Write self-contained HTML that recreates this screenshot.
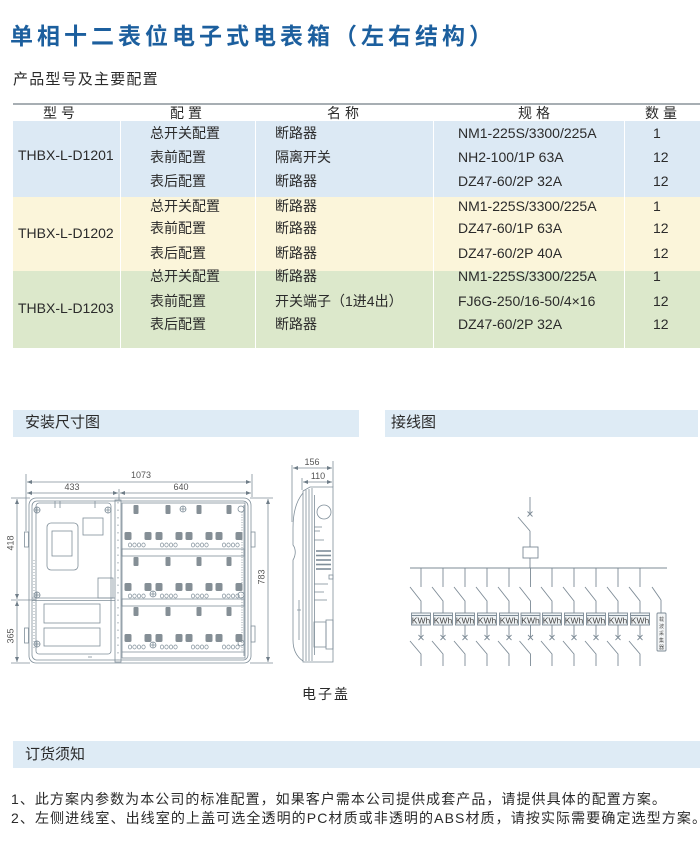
<!DOCTYPE html>
<html>
<head>
<meta charset="utf-8">
<style>
html,body{margin:0;padding:0;background:#fff;}
body{width:700px;height:863px;position:relative;overflow:hidden;font-family:"Liberation Sans","Noto Sans CJK SC",sans-serif;color:#2a2a2a;}
.a{position:absolute;white-space:nowrap;}
.t{position:absolute;white-space:nowrap;font-size:14px;line-height:20px;height:20px;color:#2b2b2b;}
.band{position:absolute;}
.sep{position:absolute;top:121px;height:227px;width:1px;background:#ffffff;}
</style>
</head>
<body>

<div class="a" style="left:10px;top:22px;font-size:23px;line-height:28px;font-weight:bold;letter-spacing:4px;color:#1c5f9e;">单相十二表位电子式电表箱（左右结构）</div>

<div class="a" style="left:13px;top:70px;font-size:15px;line-height:20px;letter-spacing:1.2px;color:#2a2a2a;">产品型号及主要配置</div>

<!-- table -->
<div class="band" style="left:13px;top:103px;width:687px;height:2px;background:#a7aeb3;"></div>
<div class="band" style="left:13px;top:121px;width:687px;height:76px;background:#dce9f4;"></div>
<div class="band" style="left:13px;top:197px;width:687px;height:74px;background:#fbf5da;"></div>
<div class="band" style="left:13px;top:271px;width:687px;height:77px;background:#dce8cb;"></div>
<div class="sep" style="left:120px;"></div>
<div class="sep" style="left:255px;"></div>
<div class="sep" style="left:433px;"></div>
<div class="sep" style="left:624px;"></div>

<div class="t" style="left:43px;top:103px;letter-spacing:4px;">型号</div>
<div class="t" style="left:170px;top:103px;letter-spacing:4px;">配置</div>
<div class="t" style="left:327px;top:103px;letter-spacing:4px;">名称</div>
<div class="t" style="left:518px;top:103px;letter-spacing:4px;">规格</div>
<div class="t" style="left:645px;top:103px;letter-spacing:4px;">数量</div>

<div class="t" style="left:18px;top:145px;">THBX-L-D1201</div>
<div class="t" style="left:150px;top:123px;">总开关配置</div>
<div class="t" style="left:275px;top:123px;">断路器</div>
<div class="t" style="left:458px;top:123px;">NM1-225S/3300/225A</div>
<div class="t" style="left:653px;top:123px;">1</div>
<div class="t" style="left:150px;top:147px;">表前配置</div>
<div class="t" style="left:275px;top:147px;">隔离开关</div>
<div class="t" style="left:458px;top:147px;">NH2-100/1P 63A</div>
<div class="t" style="left:653px;top:147px;">12</div>
<div class="t" style="left:150px;top:171px;">表后配置</div>
<div class="t" style="left:275px;top:171px;">断路器</div>
<div class="t" style="left:458px;top:171px;">DZ47-60/2P 32A</div>
<div class="t" style="left:653px;top:171px;">12</div>

<div class="t" style="left:18px;top:223px;">THBX-L-D1202</div>
<div class="t" style="left:150px;top:196px;">总开关配置</div>
<div class="t" style="left:275px;top:196px;">断路器</div>
<div class="t" style="left:458px;top:196px;">NM1-225S/3300/225A</div>
<div class="t" style="left:653px;top:196px;">1</div>
<div class="t" style="left:150px;top:218px;">表前配置</div>
<div class="t" style="left:275px;top:218px;">断路器</div>
<div class="t" style="left:458px;top:218px;">DZ47-60/1P 63A</div>
<div class="t" style="left:653px;top:218px;">12</div>
<div class="t" style="left:150px;top:243px;">表后配置</div>
<div class="t" style="left:275px;top:243px;">断路器</div>
<div class="t" style="left:458px;top:243px;">DZ47-60/2P 40A</div>
<div class="t" style="left:653px;top:243px;">12</div>

<div class="t" style="left:18px;top:298px;">THBX-L-D1203</div>
<div class="t" style="left:150px;top:266px;">总开关配置</div>
<div class="t" style="left:275px;top:266px;">断路器</div>
<div class="t" style="left:458px;top:266px;">NM1-225S/3300/225A</div>
<div class="t" style="left:653px;top:266px;">1</div>
<div class="t" style="left:150px;top:291px;">表前配置</div>
<div class="t" style="left:275px;top:291px;">开关端子（1进4出）</div>
<div class="t" style="left:458px;top:291px;">FJ6G-250/16-50/4×16</div>
<div class="t" style="left:653px;top:291px;">12</div>
<div class="t" style="left:150px;top:314px;">表后配置</div>
<div class="t" style="left:275px;top:314px;">断路器</div>
<div class="t" style="left:458px;top:314px;">DZ47-60/2P 32A</div>
<div class="t" style="left:653px;top:314px;">12</div>

<!-- section headers -->
<div class="band" style="left:13px;top:410px;width:346px;height:27px;background:#deebf5;"></div>
<div class="band" style="left:385px;top:410px;width:313px;height:27px;background:#deebf5;"></div>
<div class="a" style="left:25px;top:413px;font-size:15px;line-height:20px;">安装尺寸图</div>
<div class="a" style="left:391px;top:413px;font-size:15px;line-height:20px;">接线图</div>

<div class="band" style="left:13px;top:741px;width:687px;height:27px;background:#deebf5;"></div>
<div class="a" style="left:25px;top:745px;font-size:15px;line-height:20px;">订货须知</div>

<div class="a" style="left:11px;top:789px;font-size:14px;line-height:20px;letter-spacing:1.05px;">1、此方案内参数为本公司的标准配置，如果客户需本公司提供成套产品，请提供具体的配置方案。</div>
<div class="a" style="left:11px;top:808px;font-size:14px;line-height:20px;letter-spacing:1.1px;">2、左侧进线室、出线室的上盖可选全透明的PC材质或非透明的ABS材质，请按实际需要确定选型方案。</div>

<div class="a" style="left:302px;top:684px;font-size:14px;line-height:20px;letter-spacing:2px;">电子盖</div>

<svg class="a" style="left:0;top:0;" width="700" height="863" viewBox="0 0 700 863">
<defs>
<marker id="ar" markerWidth="6" markerHeight="6" refX="5" refY="3" orient="auto" markerUnits="userSpaceOnUse">
<path d="M0,1 L5,3 L0,5 Z" fill="#6f7d88"/>
</marker>
<marker id="al" markerWidth="6" markerHeight="6" refX="0" refY="3" orient="auto" markerUnits="userSpaceOnUse">
<path d="M5,1 L0,3 L5,5 Z" fill="#6f7d88"/>
</marker>
</defs>

<!-- ===== FRONT VIEW ===== -->
<g stroke="#7f8e99" fill="none" stroke-width="0.8">
 <line x1="26" y1="474" x2="26" y2="531"/>
 <line x1="252" y1="474" x2="252" y2="497"/>
 <line x1="119" y1="489" x2="119" y2="500"/>
 <line x1="27" y1="482" x2="251" y2="482" marker-start="url(#al)" marker-end="url(#ar)"/>
 <line x1="27" y1="493" x2="118" y2="493" marker-start="url(#al)" marker-end="url(#ar)"/>
 <line x1="120" y1="493" x2="251" y2="493" marker-start="url(#al)" marker-end="url(#ar)"/>
 <line x1="11" y1="498" x2="30" y2="498"/>
 <line x1="11" y1="600" x2="36" y2="600"/>
 <line x1="11" y1="663" x2="30" y2="663"/>
 <line x1="17" y1="499" x2="17" y2="599" marker-start="url(#al)" marker-end="url(#ar)"/>
 <line x1="17" y1="601" x2="17" y2="662" marker-start="url(#al)" marker-end="url(#ar)"/>
 <line x1="250" y1="498" x2="273" y2="498"/>
 <line x1="250" y1="663" x2="273" y2="663"/>
 <line x1="268" y1="499" x2="268" y2="662" marker-start="url(#al)" marker-end="url(#ar)"/>

 <rect x="29" y="498" width="222" height="165" rx="7"/>
 <rect x="32" y="501" width="216" height="159" rx="5"/>
 <rect x="115" y="500" width="6" height="162"/>
 <line x1="118" y1="502" x2="118" y2="660" stroke-dasharray="1.5 6"/>
 <rect x="36" y="503" width="75" height="151" rx="3"/>
 <line x1="32" y1="598" x2="115" y2="598"/>
 <line x1="32" y1="600.5" x2="115" y2="600.5"/>
 <line x1="55" y1="501" x2="55" y2="508"/>
 <line x1="60" y1="501" x2="60" y2="508"/>
 <line x1="95" y1="501" x2="95" y2="508"/>
 <line x1="34" y1="560" x2="34" y2="650" stroke-dasharray="1 2"/>
 <rect x="47" y="523" width="31" height="47" rx="4"/>
 <rect x="52" y="531" width="20" height="25"/>
 <rect x="83" y="518" width="20" height="17"/>
 <rect x="98" y="578" width="15" height="20"/>
 <rect x="44" y="604" width="56" height="19"/>
 <rect x="44" y="628" width="56" height="18"/>
 <line x1="88" y1="657" x2="92" y2="657"/>
 <circle cx="37" cy="510" r="3"/><path d="M33.5 510h7M37 506.5v7"/>
 <circle cx="108" cy="510" r="3"/><path d="M104.5 510h7M108 506.5v7"/>
 <circle cx="37" cy="595" r="3"/><path d="M33.5 595h7M37 591.5v7"/>
 <circle cx="37" cy="644" r="3"/><path d="M33.5 644h7M37 640.5v7"/>
 <rect x="24.5" y="532" width="4" height="15"/>
 <rect x="24.5" y="628" width="4" height="15"/>
 <rect x="251" y="532" width="4" height="15"/>
 <rect x="251" y="626" width="4" height="16"/>
 <rect x="122" y="503" width="123" height="155"/>
 <line x1="242" y1="512" x2="242" y2="652" stroke-dasharray="1 1.5"/>
 <line x1="244" y1="505" x2="244" y2="656"/>
 <rect x="122" y="549" width="122" height="7"/>
 <rect x="122" y="599" width="122" height="7"/>
 <line x1="122" y1="652" x2="244" y2="652"/>
 <circle cx="183" cy="509" r="3"/><path d="M180 509h6M183 506v6"/>
 <circle cx="153" cy="594" r="3"/><path d="M150 594h6M153 591v6"/>
 <circle cx="153" cy="645" r="3"/><path d="M150 645h6M153 642v6"/>
 <circle cx="241" cy="509" r="3"/>
 <circle cx="241" cy="595" r="3"/>
 <circle cx="241" cy="643" r="3"/>
</g>
<g fill="#858f96">
 <rect x="124.5" y="532" width="7" height="8" rx="1.5"/><rect x="144.5" y="532" width="7" height="8" rx="1.5"/><rect x="155.5" y="532" width="7" height="8" rx="1.5"/><rect x="175.5" y="532" width="7" height="8" rx="1.5"/><rect x="185.5" y="532" width="7" height="8" rx="1.5"/><rect x="205.5" y="532" width="7" height="8" rx="1.5"/><rect x="215.5" y="532" width="7" height="8" rx="1.5"/><rect x="235.5" y="532" width="7" height="8" rx="1.5"/>
 <rect x="124.5" y="583" width="7" height="8" rx="1.5"/><rect x="144.5" y="583" width="7" height="8" rx="1.5"/><rect x="155.5" y="583" width="7" height="8" rx="1.5"/><rect x="175.5" y="583" width="7" height="8" rx="1.5"/><rect x="185.5" y="583" width="7" height="8" rx="1.5"/><rect x="205.5" y="583" width="7" height="8" rx="1.5"/><rect x="215.5" y="583" width="7" height="8" rx="1.5"/><rect x="235.5" y="583" width="7" height="8" rx="1.5"/>
 <rect x="124.5" y="634" width="7" height="8" rx="1.5"/><rect x="144.5" y="634" width="7" height="8" rx="1.5"/><rect x="155.5" y="634" width="7" height="8" rx="1.5"/><rect x="175.5" y="634" width="7" height="8" rx="1.5"/><rect x="185.5" y="634" width="7" height="8" rx="1.5"/><rect x="205.5" y="634" width="7" height="8" rx="1.5"/><rect x="215.5" y="634" width="7" height="8" rx="1.5"/><rect x="235.5" y="634" width="7" height="8" rx="1.5"/>
 <rect x="133.5" y="505" width="5" height="9" rx="1"/><rect x="165.5" y="505" width="5" height="9" rx="1"/><rect x="196.5" y="505" width="5" height="9" rx="1"/><rect x="226.5" y="505" width="5" height="9" rx="1"/>
 <rect x="133.5" y="557" width="5" height="9" rx="1"/><rect x="165.5" y="557" width="5" height="9" rx="1"/><rect x="196.5" y="557" width="5" height="9" rx="1"/><rect x="226.5" y="557" width="5" height="9" rx="1"/>
 <rect x="133.5" y="607" width="5" height="9" rx="1"/><rect x="165.5" y="607" width="5" height="9" rx="1"/><rect x="196.5" y="607" width="5" height="9" rx="1"/><rect x="226.5" y="607" width="5" height="9" rx="1"/>
</g>
<g fill="none" stroke="#7f8e99" stroke-width="0.7">
 <g>
  <ellipse cx="130" cy="545" rx="1.7" ry="2"/><ellipse cx="134.5" cy="545" rx="1.7" ry="2"/><ellipse cx="139" cy="545" rx="1.7" ry="2"/><ellipse cx="143.5" cy="545" rx="1.7" ry="2"/>
  <ellipse cx="162" cy="545" rx="1.7" ry="2"/><ellipse cx="166.5" cy="545" rx="1.7" ry="2"/><ellipse cx="171" cy="545" rx="1.7" ry="2"/><ellipse cx="175.5" cy="545" rx="1.7" ry="2"/>
  <ellipse cx="193" cy="545" rx="1.7" ry="2"/><ellipse cx="197.5" cy="545" rx="1.7" ry="2"/><ellipse cx="202" cy="545" rx="1.7" ry="2"/><ellipse cx="206.5" cy="545" rx="1.7" ry="2"/>
  <ellipse cx="224" cy="545" rx="1.7" ry="2"/><ellipse cx="228.5" cy="545" rx="1.7" ry="2"/><ellipse cx="233" cy="545" rx="1.7" ry="2"/><ellipse cx="237.5" cy="545" rx="1.7" ry="2"/>
 </g>
 <g transform="translate(0,51)">
  <ellipse cx="130" cy="545" rx="1.7" ry="2"/><ellipse cx="134.5" cy="545" rx="1.7" ry="2"/><ellipse cx="139" cy="545" rx="1.7" ry="2"/><ellipse cx="143.5" cy="545" rx="1.7" ry="2"/>
  <ellipse cx="162" cy="545" rx="1.7" ry="2"/><ellipse cx="166.5" cy="545" rx="1.7" ry="2"/><ellipse cx="171" cy="545" rx="1.7" ry="2"/><ellipse cx="175.5" cy="545" rx="1.7" ry="2"/>
  <ellipse cx="193" cy="545" rx="1.7" ry="2"/><ellipse cx="197.5" cy="545" rx="1.7" ry="2"/><ellipse cx="202" cy="545" rx="1.7" ry="2"/><ellipse cx="206.5" cy="545" rx="1.7" ry="2"/>
  <ellipse cx="224" cy="545" rx="1.7" ry="2"/><ellipse cx="228.5" cy="545" rx="1.7" ry="2"/><ellipse cx="233" cy="545" rx="1.7" ry="2"/><ellipse cx="237.5" cy="545" rx="1.7" ry="2"/>
 </g>
 <g transform="translate(0,102)">
  <ellipse cx="130" cy="545" rx="1.7" ry="2"/><ellipse cx="134.5" cy="545" rx="1.7" ry="2"/><ellipse cx="139" cy="545" rx="1.7" ry="2"/><ellipse cx="143.5" cy="545" rx="1.7" ry="2"/>
  <ellipse cx="162" cy="545" rx="1.7" ry="2"/><ellipse cx="166.5" cy="545" rx="1.7" ry="2"/><ellipse cx="171" cy="545" rx="1.7" ry="2"/><ellipse cx="175.5" cy="545" rx="1.7" ry="2"/>
  <ellipse cx="193" cy="545" rx="1.7" ry="2"/><ellipse cx="197.5" cy="545" rx="1.7" ry="2"/><ellipse cx="202" cy="545" rx="1.7" ry="2"/><ellipse cx="206.5" cy="545" rx="1.7" ry="2"/>
  <ellipse cx="224" cy="545" rx="1.7" ry="2"/><ellipse cx="228.5" cy="545" rx="1.7" ry="2"/><ellipse cx="233" cy="545" rx="1.7" ry="2"/><ellipse cx="237.5" cy="545" rx="1.7" ry="2"/>
 </g>
</g>
<g font-family="Liberation Sans, sans-serif" font-size="9" fill="#555" text-anchor="middle">
 <text x="141" y="478">1073</text>
 <text x="72" y="490">433</text>
 <text x="181" y="490">640</text>
 <text transform="translate(11,543) rotate(-90)" dominant-baseline="middle">418</text>
 <text transform="translate(11,636) rotate(-90)" dominant-baseline="middle">365</text>
 <text transform="translate(262,577) rotate(-90)" dominant-baseline="middle">783</text>
 <text x="312" y="465">156</text>
 <text x="318" y="479">110</text>
</g>

<!-- ===== SIDE VIEW ===== -->
<g stroke="#7f8e99" fill="none" stroke-width="0.8">
 <line x1="292" y1="465" x2="292" y2="522"/>
 <line x1="333" y1="461" x2="333" y2="487"/>
 <line x1="302" y1="478" x2="302" y2="490"/>
 <line x1="293" y1="468" x2="332" y2="468" marker-start="url(#al)" marker-end="url(#ar)"/>
 <line x1="303" y1="482" x2="332" y2="482" marker-start="url(#al)" marker-end="url(#ar)"/>
 <path d="M303 491 L310 487 L333 487 L333 662 L303 662 Z"/>
 <line x1="306" y1="490" x2="306" y2="661"/>
 <line x1="309" y1="489" x2="309" y2="661"/>
 <line x1="312" y1="488" x2="312" y2="661"/>
 <line x1="314.5" y1="495" x2="314.5" y2="655"/>
 <path d="M303 493 C297 500 293 512 293 528 L293 545 C296 549 296 555 293 560 L293 640 C293 650 297 657 303 661"/>
 <path d="M299 600 L299 640 M297 610 L301 610"/>
 <circle cx="324" cy="512" r="7"/>
 <line x1="314" y1="527" x2="322" y2="527"/>
 <line x1="314" y1="531" x2="320" y2="531"/>
 <line x1="314" y1="540" x2="324" y2="540"/>
 <line x1="314" y1="584" x2="328" y2="584"/>
 <line x1="314" y1="592" x2="324" y2="592"/>
 <line x1="314" y1="600" x2="327" y2="600"/>
 <rect x="329" y="575" width="4" height="4"/>
 <rect x="314" y="622" width="12" height="25"/>
 <rect x="326" y="620" width="7" height="29"/>
</g>
<g stroke="#7f8e99" stroke-width="1.6">
 <line x1="316" y1="551" x2="331" y2="551"/>
 <line x1="316" y1="555.5" x2="331" y2="555.5"/>
 <line x1="316" y1="560" x2="331" y2="560"/>
 <line x1="316" y1="564.5" x2="331" y2="564.5"/>
 <line x1="316" y1="569" x2="331" y2="569"/>
</g>

<!-- ===== WIRING DIAGRAM ===== -->
<g stroke="#7d8b96" fill="none" stroke-width="0.9">
 <line x1="530" y1="497" x2="530" y2="514"/>
 <path d="M527.5 511.5l5 5M532.5 511.5l-5 5"/>
 <line x1="518" y1="517" x2="530" y2="531"/>
 <line x1="530" y1="531" x2="530" y2="547"/>
 <rect x="523" y="547" width="15" height="11"/>
 <line x1="530" y1="558" x2="530" y2="568"/>
 <line x1="410" y1="568" x2="667" y2="568"/>
 <line x1="652" y1="587" x2="661" y2="600"/>
 <line x1="661" y1="600" x2="661" y2="613"/>
 <rect x="657" y="613" width="9" height="38" rx="1" fill="#f3f5f6"/>
</g>
<g font-family="Liberation Sans, Noto Sans CJK SC, sans-serif" font-size="5" fill="#555" text-anchor="middle">
 <text x="661.5" y="621">载</text>
 <text x="661.5" y="628">波</text>
 <text x="661.5" y="635">采</text>
 <text x="661.5" y="642">集</text>
 <text x="661.5" y="649">器</text>
</g>

<g stroke="#7d8b96" stroke-width="0.9" font-family="Liberation Sans, sans-serif">
 <g transform="translate(421,0)"><path fill="none" d="M0 568V587M-11 587L0 601V613M0 625V637.5M-2.5 635l5 5M2.5 635l-5 5M-11 641L0 654V666"/><rect x="-9.5" y="613" width="19" height="12" fill="#eef2f4"/><line x1="-9.5" y1="615.5" x2="9.5" y2="615.5"/><text x="0" y="623.5" font-size="8.5" fill="#444" stroke="none" text-anchor="middle">KWh</text></g>
 <g transform="translate(443,0)"><path fill="none" d="M0 568V587M-11 587L0 601V613M0 625V637.5M-2.5 635l5 5M2.5 635l-5 5M-11 641L0 654V666"/><rect x="-9.5" y="613" width="19" height="12" fill="#eef2f4"/><line x1="-9.5" y1="615.5" x2="9.5" y2="615.5"/><text x="0" y="623.5" font-size="8.5" fill="#444" stroke="none" text-anchor="middle">KWh</text></g>
 <g transform="translate(465,0)"><path fill="none" d="M0 568V587M-11 587L0 601V613M0 625V637.5M-2.5 635l5 5M2.5 635l-5 5M-11 641L0 654V666"/><rect x="-9.5" y="613" width="19" height="12" fill="#eef2f4"/><line x1="-9.5" y1="615.5" x2="9.5" y2="615.5"/><text x="0" y="623.5" font-size="8.5" fill="#444" stroke="none" text-anchor="middle">KWh</text></g>
 <g transform="translate(487,0)"><path fill="none" d="M0 568V587M-11 587L0 601V613M0 625V637.5M-2.5 635l5 5M2.5 635l-5 5M-11 641L0 654V666"/><rect x="-9.5" y="613" width="19" height="12" fill="#eef2f4"/><line x1="-9.5" y1="615.5" x2="9.5" y2="615.5"/><text x="0" y="623.5" font-size="8.5" fill="#444" stroke="none" text-anchor="middle">KWh</text></g>
 <g transform="translate(509,0)"><path fill="none" d="M0 568V587M-11 587L0 601V613M0 625V637.5M-2.5 635l5 5M2.5 635l-5 5M-11 641L0 654V666"/><rect x="-9.5" y="613" width="19" height="12" fill="#eef2f4"/><line x1="-9.5" y1="615.5" x2="9.5" y2="615.5"/><text x="0" y="623.5" font-size="8.5" fill="#444" stroke="none" text-anchor="middle">KWh</text></g>
 <g transform="translate(530.5,0)"><path fill="none" d="M0 568V587M-11 587L0 601V613M0 625V637.5M-2.5 635l5 5M2.5 635l-5 5M-11 641L0 654V666"/><rect x="-9.5" y="613" width="19" height="12" fill="#eef2f4"/><line x1="-9.5" y1="615.5" x2="9.5" y2="615.5"/><text x="0" y="623.5" font-size="8.5" fill="#444" stroke="none" text-anchor="middle">KWh</text></g>
 <g transform="translate(552,0)"><path fill="none" d="M0 568V587M-11 587L0 601V613M0 625V637.5M-2.5 635l5 5M2.5 635l-5 5M-11 641L0 654V666"/><rect x="-9.5" y="613" width="19" height="12" fill="#eef2f4"/><line x1="-9.5" y1="615.5" x2="9.5" y2="615.5"/><text x="0" y="623.5" font-size="8.5" fill="#444" stroke="none" text-anchor="middle">KWh</text></g>
 <g transform="translate(574,0)"><path fill="none" d="M0 568V587M-11 587L0 601V613M0 625V637.5M-2.5 635l5 5M2.5 635l-5 5M-11 641L0 654V666"/><rect x="-9.5" y="613" width="19" height="12" fill="#eef2f4"/><line x1="-9.5" y1="615.5" x2="9.5" y2="615.5"/><text x="0" y="623.5" font-size="8.5" fill="#444" stroke="none" text-anchor="middle">KWh</text></g>
 <g transform="translate(596,0)"><path fill="none" d="M0 568V587M-11 587L0 601V613M0 625V637.5M-2.5 635l5 5M2.5 635l-5 5M-11 641L0 654V666"/><rect x="-9.5" y="613" width="19" height="12" fill="#eef2f4"/><line x1="-9.5" y1="615.5" x2="9.5" y2="615.5"/><text x="0" y="623.5" font-size="8.5" fill="#444" stroke="none" text-anchor="middle">KWh</text></g>
 <g transform="translate(618,0)"><path fill="none" d="M0 568V587M-11 587L0 601V613M0 625V637.5M-2.5 635l5 5M2.5 635l-5 5M-11 641L0 654V666"/><rect x="-9.5" y="613" width="19" height="12" fill="#eef2f4"/><line x1="-9.5" y1="615.5" x2="9.5" y2="615.5"/><text x="0" y="623.5" font-size="8.5" fill="#444" stroke="none" text-anchor="middle">KWh</text></g>
 <g transform="translate(640,0)"><path fill="none" d="M0 568V587M-11 587L0 601V613M0 625V637.5M-2.5 635l5 5M2.5 635l-5 5M-11 641L0 654V666"/><rect x="-9.5" y="613" width="19" height="12" fill="#eef2f4"/><line x1="-9.5" y1="615.5" x2="9.5" y2="615.5"/><text x="0" y="623.5" font-size="8.5" fill="#444" stroke="none" text-anchor="middle">KWh</text></g>
</g>
</svg>

</body>
</html>
